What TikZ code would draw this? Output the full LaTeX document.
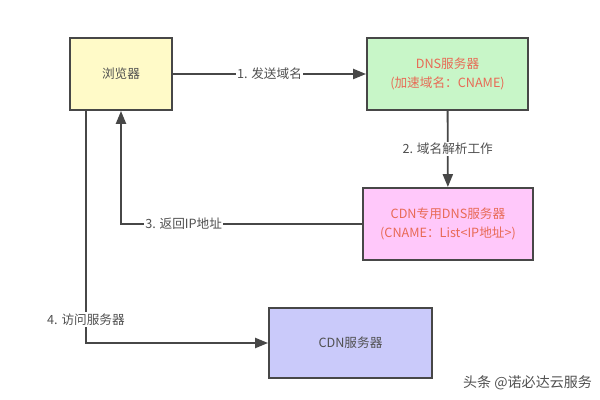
\documentclass[tikz,border=0pt]{standalone}
\usepackage{fontspec}
\setmainfont{Noto Sans CJK SC}
\usetikzlibrary{arrows.meta, positioning}
\definecolor{boxline}{HTML}{474747}
\definecolor{txtgray}{HTML}{505050}
\definecolor{txtred}{HTML}{E86A55}
\tikzstyle{server} = [rectangle, draw=boxline, line width=1.4pt, text centered, align=center, font=\fontsize{9}{13}\selectfont]
\tikzstyle{flow} = [draw=boxline, line width=1.3pt, -{Triangle[length=3.2mm, width=2.5mm]}]
\tikzstyle{step label} = [fill=white, inner sep=1pt, text=txtgray, font=\fontsize{9}{11}\selectfont]

\begin{document}
\begin{tikzpicture}[x=0.025cm, y=-0.025cm]
\useasboundingbox (0,0) rectangle (600,400);
\node (browser) [server, fill={rgb,255:red,255;green,250;blue,200}, text=txtgray, minimum width=102*0.025cm, minimum height=72*0.025cm] at (121,74) {浏览器};
\node (dns) [server, fill={rgb,255:red,200;green,246;blue,200}, text=txtred, minimum width=161*0.025cm, minimum height=72*0.025cm] at (447.5,74) {DNS服务器\\(加速域名：CNAME)};
\node (cdndns) [server, fill={rgb,255:red,255;green,200;blue,250}, text=txtred, minimum width=170*0.025cm, minimum height=72*0.025cm] at (448,224) {CDN专用DNS服务器\\(CNAME：List<IP地址>)};
\node (cdn) [server, fill={rgb,255:red,202;green,202;blue,250}, text=txtgray, minimum width=163*0.025cm, minimum height=70*0.025cm] at (350.5,343) {CDN服务器};
\coordinate (down) at (86,110);
\draw[flow] (browser) -- node[step label] {1. 发送域名} (dns);
\draw[flow] (dns) -- node[step label] {2. 域名解析工作} (cdndns);
\draw[flow] (cdndns.west) -| node[step label, pos=0.37] {3. 返回IP地址} (browser.south);
\draw[flow] (down) |- node[step label, pos=0.45] {4. 访问服务器} (cdn.west);
\node (mark) [text=txtgray, font=\fontsize{10}{12}\selectfont, anchor=east] at (597,383) {头条 @诺必达云服务};
\end{tikzpicture}
\end{document}
